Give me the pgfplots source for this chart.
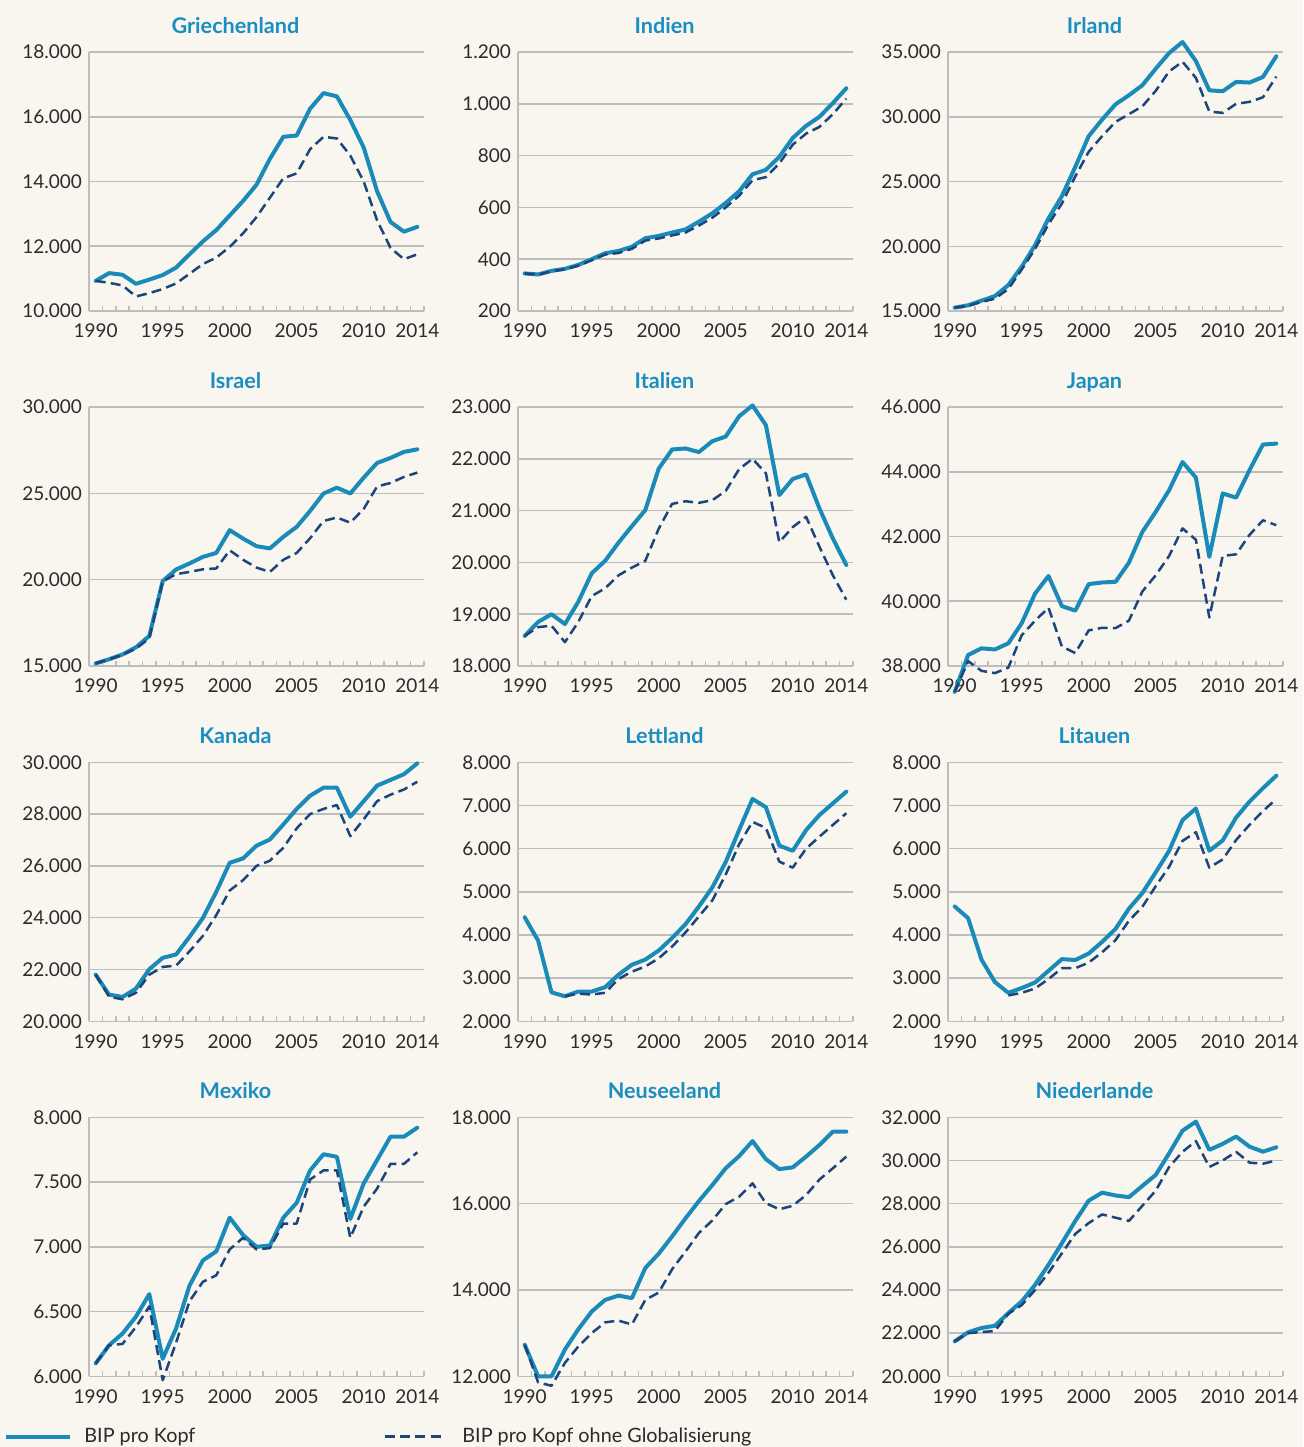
\documentclass[border=0pt]{standalone}
\usepackage{fontspec}
\setmainfont{Lato}
\usepackage{pgfplots}
\pgfplotsset{compat=1.18}
\definecolor{bgc}{HTML}{F8F6EF}
\definecolor{lineblue}{HTML}{1A8BB9}
\definecolor{titleblue}{HTML}{1B8EC1}
\definecolor{navy}{HTML}{1C457C}
\definecolor{gridc}{HTML}{BDBDBD}
\definecolor{txt}{HTML}{2B2B2B}

\tikzset{
  bip/.style={lineblue, line width=2pt, line join=round, line cap=round},
  bipog/.style={navy, line width=1.25pt, line join=round, dash pattern=on 5pt off 2.6pt},
}
\pgfplotsset{
  panel/.style={
    width=167.5pt, height=129.5pt, scale only axis, anchor=north west,
    xmin=1989.5, xmax=2014.5,
    xtick={1990,1995,2000,2005,2010,2014},
    xticklabels={1990,1995,2000,2005,2010,2014},
    minor xtick={1990.5,1991.5,1992.5,1993.5,1994.5,1995.5,1996.5,1997.5,1998.5,1999.5,2000.5,2001.5,2002.5,2003.5,2004.5,2005.5,2006.5,2007.5,2008.5,2009.5,2010.5,2011.5,2012.5,2013.5,2014.5},
    axis x line*=bottom, axis y line*=left,
    axis line style={gridc, line width=0.75pt, -},
    tick align=inside,
    major tick length=0pt, minor tick length=2.6pt,
    minor tick style={gridc, line width=0.75pt},
    ymajorgrids, grid style={gridc, line width=0.75pt},
    scaled y ticks=false,
    /pgf/number format/1000 sep={.},
    /pgf/number format/assume math mode=true,
    ticklabel style={font=\fontsize{9.5}{11}\selectfont, text=txt},
    xticklabel style={yshift=-3pt},
    title style={at={(0.5,1)}, anchor=base, yshift=3.5pt, xshift=-10.5pt,
      font=\bfseries\fontsize{10.8}{12}\selectfont, text=titleblue},
    clip=false,
  },
}

\begin{document}
\begin{tikzpicture}
\path[use as bounding box, fill=bgc] (0,0) rectangle (651.5pt,-723.5pt);

% Griechenland
\begin{axis}[panel, at={(44.5pt,-26pt)}, title={Griechenland},
  ymin=10000, ymax=18000, ytick distance=2000]
\addplot[bip] coordinates {(1990,10930)(1991,11170)(1992,11120)(1993,10840)(1994,10970)(1995,11110)(1996,11340)(1997,11750)(1998,12150)(1999,12500)(2000,12950)(2001,13400)(2002,13900)(2003,14700)(2004,15380)(2005,15420)(2006,16250)(2007,16730)(2008,16630)(2009,15900)(2010,15050)(2011,13700)(2012,12750)(2013,12450)(2014,12600)};
\addplot[bipog] coordinates {(1990,10930)(1991,10870)(1992,10790)(1993,10450)(1994,10550)(1995,10680)(1996,10850)(1997,11150)(1998,11450)(1999,11650)(2000,11980)(2001,12400)(2002,12900)(2003,13500)(2004,14100)(2005,14250)(2006,15000)(2007,15380)(2008,15330)(2009,14800)(2010,14000)(2011,12800)(2012,11950)(2013,11600)(2014,11750)};
\end{axis}

% Indien
\begin{axis}[panel, at={(259pt,-26pt)}, title={Indien},
  ymin=200, ymax=1200, ytick distance=200]
\addplot[bip] coordinates {(1990,345)(1991,341)(1992,355)(1993,363)(1994,378)(1995,400)(1996,423)(1997,432)(1998,448)(1999,481)(2000,490)(2001,503)(2002,515)(2003,545)(2004,577)(2005,617)(2006,662)(2007,728)(2008,745)(2009,795)(2010,868)(2011,915)(2012,950)(2013,1003)(2014,1060)};
\addplot[bipog] coordinates {(1990,345)(1991,341)(1992,353)(1993,361)(1994,375)(1995,396)(1996,418)(1997,424)(1998,440)(1999,472)(2000,480)(2001,492)(2002,503)(2003,530)(2004,560)(2005,600)(2006,645)(2007,705)(2008,717)(2009,770)(2010,842)(2011,885)(2012,911)(2013,960)(2014,1020)};
\end{axis}

% Irland
\begin{axis}[panel, at={(474pt,-26pt)}, title={Irland},
  ymin=15000, ymax=35000, ytick distance=5000]
\addplot[bip] coordinates {(1990,15260)(1991,15440)(1992,15800)(1993,16150)(1994,17000)(1995,18420)(1996,20090)(1997,22150)(1998,23870)(1999,26130)(2000,28500)(2001,29780)(2002,30960)(2003,31660)(2004,32430)(2005,33710)(2006,34920)(2007,35770)(2008,34300)(2009,32040)(2010,31970)(2011,32690)(2012,32640)(2013,33070)(2014,34670)};
\addplot[bipog] coordinates {(1990,15260)(1991,15400)(1992,15700)(1993,15950)(1994,16700)(1995,18200)(1996,19800)(1997,21700)(1998,23300)(1999,25400)(2000,27300)(2001,28500)(2002,29600)(2003,30200)(2004,30800)(2005,32000)(2006,33500)(2007,34250)(2008,33000)(2009,30400)(2010,30300)(2011,31000)(2012,31150)(2013,31500)(2014,33100)};
\end{axis}

% Israel
\begin{axis}[panel, at={(44.5pt,-203.5pt)}, title={Israel},
  ymin=15000, ymax=30000, ytick distance=5000]
\addplot[bip] coordinates {(1990,15150)(1991,15390)(1992,15670)(1993,16080)(1994,16740)(1995,19920)(1996,20590)(1997,20940)(1998,21320)(1999,21550)(2000,22870)(2001,22380)(2002,21940)(2003,21810)(2004,22480)(2005,23060)(2006,23980)(2007,24990)(2008,25330)(2009,24990)(2010,25910)(2011,26760)(2012,27050)(2013,27400)(2014,27550)};
\addplot[bipog] coordinates {(1990,15150)(1991,15390)(1992,15650)(1993,16000)(1994,16600)(1995,19900)(1996,20320)(1997,20450)(1998,20600)(1999,20650)(2000,21700)(2001,21150)(2002,20700)(2003,20450)(2004,21150)(2005,21550)(2006,22400)(2007,23400)(2008,23600)(2009,23300)(2010,24100)(2011,25400)(2012,25600)(2013,25950)(2014,26200)};
\end{axis}

% Italien
\begin{axis}[panel, at={(259pt,-203.5pt)}, title={Italien},
  ymin=18000, ymax=23000, ytick distance=1000]
\addplot[bip] coordinates {(1990,18580)(1991,18850)(1992,19000)(1993,18810)(1994,19240)(1995,19790)(1996,20030)(1997,20380)(1998,20700)(1999,21010)(2000,21810)(2001,22180)(2002,22200)(2003,22130)(2004,22340)(2005,22430)(2006,22820)(2007,23030)(2008,22650)(2009,21300)(2010,21610)(2011,21700)(2012,21040)(2013,20460)(2014,19950)};
\addplot[bipog] coordinates {(1990,18580)(1991,18750)(1992,18780)(1993,18460)(1994,18850)(1995,19350)(1996,19500)(1997,19750)(1998,19900)(1999,20030)(2000,20650)(2001,21130)(2002,21180)(2003,21150)(2004,21200)(2005,21380)(2006,21800)(2007,22000)(2008,21720)(2009,20390)(2010,20680)(2011,20880)(2012,20300)(2013,19750)(2014,19280)};
\end{axis}

% Japan
\begin{axis}[panel, at={(474pt,-203.5pt)}, title={Japan},
  ymin=38000, ymax=46000, ytick distance=2000]
\addplot[bip] coordinates {(1990,37200)(1991,38340)(1992,38545)(1993,38510)(1994,38700)(1995,39320)(1996,40240)(1997,40780)(1998,39850)(1999,39710)(2000,40530)(2001,40580)(2002,40600)(2003,41190)(2004,42140)(2005,42760)(2006,43430)(2007,44300)(2008,43820)(2009,41370)(2010,43330)(2011,43200)(2012,44050)(2013,44840)(2014,44870)};
\addplot[bipog] coordinates {(1990,37200)(1991,38150)(1992,37850)(1993,37780)(1994,37950)(1995,38950)(1996,39400)(1997,39800)(1998,38600)(1999,38400)(2000,39100)(2001,39180)(2002,39170)(2003,39400)(2004,40300)(2005,40800)(2006,41400)(2007,42250)(2008,41900)(2009,39500)(2010,41400)(2011,41450)(2012,42050)(2013,42500)(2014,42350)};
\end{axis}

% Kanada
\begin{axis}[panel, at={(44.5pt,-381.15pt)}, title={Kanada},
  ymin=20000, ymax=30000, ytick distance=2000]
\addplot[bip] coordinates {(1990,21800)(1991,21030)(1992,20940)(1993,21260)(1994,22010)(1995,22450)(1996,22580)(1997,23260)(1998,23990)(1999,25000)(2000,26120)(2001,26290)(2002,26780)(2003,27020)(2004,27600)(2005,28200)(2006,28710)(2007,29020)(2008,29020)(2009,27900)(2010,28500)(2011,29100)(2012,29320)(2013,29540)(2014,29960)};
\addplot[bipog] coordinates {(1990,21800)(1991,20950)(1992,20850)(1993,21100)(1994,21800)(1995,22100)(1996,22150)(1997,22700)(1998,23300)(1999,24100)(2000,25050)(2001,25450)(2002,26000)(2003,26200)(2004,26700)(2005,27450)(2006,28000)(2007,28200)(2008,28350)(2009,27150)(2010,27800)(2011,28500)(2012,28750)(2013,28950)(2014,29250)};
\end{axis}

% Lettland
\begin{axis}[panel, at={(259pt,-381.15pt)}, title={Lettland},
  ymin=2000, ymax=8000, ytick distance=1000]
\addplot[bip] coordinates {(1990,4410)(1991,3870)(1992,2670)(1993,2580)(1994,2690)(1995,2690)(1996,2790)(1997,3080)(1998,3310)(1999,3430)(2000,3640)(2001,3930)(2002,4250)(2003,4660)(2004,5100)(2005,5690)(2006,6430)(2007,7150)(2008,6960)(2009,6070)(2010,5950)(2011,6430)(2012,6780)(2013,7050)(2014,7320)};
\addplot[bipog] coordinates {(1993,2580)(1994,2640)(1995,2620)(1996,2660)(1997,2980)(1998,3150)(1999,3270)(2000,3460)(2001,3730)(2002,4060)(2003,4430)(2004,4800)(2005,5400)(2006,6100)(2007,6620)(2008,6480)(2009,5700)(2010,5560)(2011,6000)(2012,6280)(2013,6550)(2014,6820)};
\end{axis}

% Litauen
\begin{axis}[panel, at={(474pt,-381.15pt)}, title={Litauen},
  ymin=2000, ymax=8000, ytick distance=1000]
\addplot[bip] coordinates {(1990,4660)(1991,4390)(1992,3430)(1993,2910)(1994,2660)(1995,2770)(1996,2900)(1997,3170)(1998,3440)(1999,3420)(2000,3570)(2001,3840)(2002,4140)(2003,4610)(2004,4970)(2005,5450)(2006,5950)(2007,6660)(2008,6930)(2009,5950)(2010,6190)(2011,6720)(2012,7090)(2013,7400)(2014,7690)};
\addplot[bipog] coordinates {(1994,2600)(1995,2660)(1996,2760)(1997,2980)(1998,3230)(1999,3230)(2000,3360)(2001,3600)(2002,3880)(2003,4330)(2004,4650)(2005,5130)(2006,5580)(2007,6180)(2008,6380)(2009,5560)(2010,5750)(2011,6200)(2012,6550)(2013,6870)(2014,7150)};
\end{axis}

% Mexiko
\begin{axis}[panel, at={(44.5pt,-558.65pt)}, title={Mexiko},
  ymin=6000, ymax=8000, ytick distance=500]
\addplot[bip] coordinates {(1990,6100)(1991,6240)(1992,6330)(1993,6460)(1994,6635)(1995,6135)(1996,6370)(1997,6700)(1998,6895)(1999,6965)(2000,7225)(2001,7090)(2002,7000)(2003,7010)(2004,7225)(2005,7340)(2006,7590)(2007,7715)(2008,7695)(2009,7215)(2010,7490)(2011,7670)(2012,7850)(2013,7850)(2014,7920)};
\addplot[bipog] coordinates {(1990,6100)(1991,6240)(1992,6250)(1993,6380)(1994,6540)(1995,5970)(1996,6260)(1997,6580)(1998,6730)(1999,6780)(2000,6980)(2001,7070)(2002,6980)(2003,6990)(2004,7180)(2005,7180)(2006,7520)(2007,7590)(2008,7590)(2009,7070)(2010,7310)(2011,7450)(2012,7640)(2013,7640)(2014,7730)};
\end{axis}

% Neuseeland
\begin{axis}[panel, at={(259pt,-558.65pt)}, title={Neuseeland},
  ymin=12000, ymax=18000, ytick distance=2000]
\addplot[bip] coordinates {(1990,12730)(1991,12000)(1992,12000)(1993,12620)(1994,13090)(1995,13500)(1996,13770)(1997,13870)(1998,13810)(1999,14510)(2000,14840)(2001,15240)(2002,15660)(2003,16060)(2004,16430)(2005,16820)(2006,17100)(2007,17450)(2008,17030)(2009,16800)(2010,16840)(2011,17090)(2012,17360)(2013,17670)(2014,17670)};
\addplot[bipog] coordinates {(1990,12730)(1991,11860)(1992,11780)(1993,12310)(1994,12690)(1995,13000)(1996,13250)(1997,13290)(1998,13200)(1999,13770)(2000,13940)(2001,14480)(2002,14890)(2003,15320)(2004,15610)(2005,15990)(2006,16160)(2007,16470)(2008,16010)(2009,15870)(2010,15950)(2011,16200)(2012,16560)(2013,16820)(2014,17090)};
\end{axis}

% Niederlande
\begin{axis}[panel, at={(474pt,-558.65pt)}, title={Niederlande},
  ymin=20000, ymax=32000, ytick distance=2000]
\addplot[bip] coordinates {(1990,21620)(1991,22040)(1992,22240)(1993,22340)(1994,22930)(1995,23470)(1996,24240)(1997,25170)(1998,26170)(1999,27200)(2000,28140)(2001,28510)(2002,28380)(2003,28300)(2004,28820)(2005,29330)(2006,30330)(2007,31380)(2008,31800)(2009,30490)(2010,30770)(2011,31110)(2012,30640)(2013,30410)(2014,30610)};
\addplot[bipog] coordinates {(1990,21620)(1991,22000)(1992,22050)(1993,22100)(1994,22900)(1995,23300)(1996,24000)(1997,24800)(1998,25700)(1999,26600)(2000,27100)(2001,27500)(2002,27350)(2003,27200)(2004,27900)(2005,28600)(2006,29700)(2007,30400)(2008,30900)(2009,29700)(2010,30000)(2011,30400)(2012,29900)(2013,29850)(2014,30000)};
\end{axis}

% legend
\draw[bip, line cap=butt] (3pt,-718.3pt) -- (35pt,-718.3pt);
\node[anchor=base west, inner sep=0pt, text=txt, font=\fontsize{9.9}{11}\selectfont] at (42pt,-721.3pt) {BIP pro Kopf};
\draw[bipog] (192.5pt,-718.3pt) -- (221.5pt,-718.3pt);
\node[anchor=base west, inner sep=0pt, text=txt, font=\fontsize{9.9}{11}\selectfont] at (231pt,-721.3pt) {BIP pro Kopf ohne Globalisierung};
\end{tikzpicture}
\end{document}
